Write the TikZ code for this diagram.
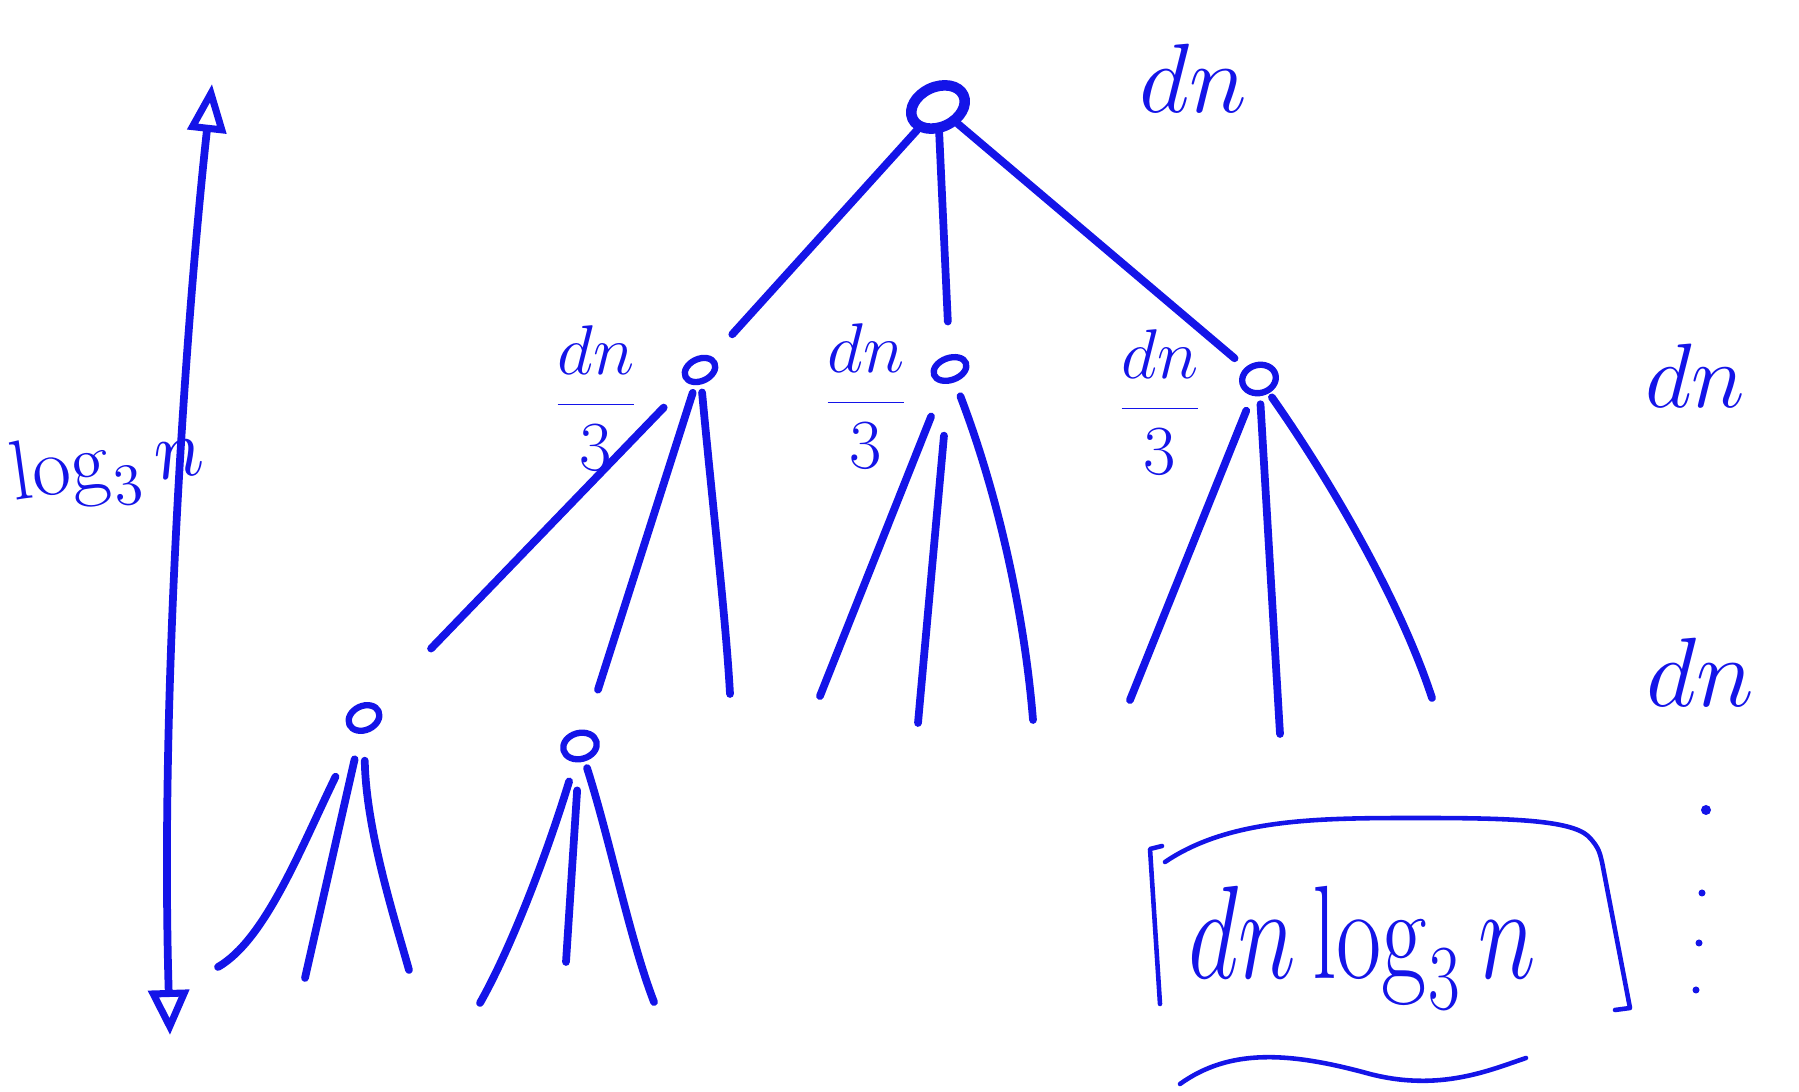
\documentclass[tikz,border=0pt]{standalone}
\usepackage{fix-cm}
\usetikzlibrary{shapes.geometric,arrows.meta}
\definecolor{ink}{RGB}{20,20,232}
\begin{document}
\begin{tikzpicture}[x=0.01cm,y=-0.01cm,line cap=round,line join=round,
  edge/.style={draw=ink,line width=2.2pt},
  thinink/.style={draw=ink,line width=1.3pt},
  vert/.style={ellipse,draw=ink,line width=1.8pt,inner sep=0pt},
  lbl/.style={text=ink,inner sep=0pt}]
\useasboundingbox[fill=white] (0,0) rectangle (1799,1092);

% vertices
\node[vert,minimum width=0.56cm,minimum height=0.40cm,rotate=25,line width=3pt] (R) at (938,107) {};
\node[vert,minimum width=0.32cm,minimum height=0.22cm,rotate=25] (C1) at (700,370) {};
\node[vert,minimum width=0.34cm,minimum height=0.22cm,rotate=20] (C2) at (950,369) {};
\node[vert,minimum width=0.34cm,minimum height=0.28cm,rotate=15] (C3) at (1259,379) {};
\node[vert,minimum width=0.32cm,minimum height=0.24cm,rotate=25] (G1) at (364,718) {};
\node[vert,minimum width=0.34cm,minimum height=0.26cm,rotate=15] (G2) at (580,746) {};

% labels
\node[lbl,font=\fontsize{28}{32}\selectfont] (Lroot) at (1193,78) {$dn$};
\node[lbl,font=\fontsize{20}{24}\selectfont] (L1) at (596,398) {$\displaystyle\frac{dn}{3}$};
\node[lbl,font=\fontsize{20}{24}\selectfont] (L2) at (866,396) {$\displaystyle\frac{dn}{3}$};
\node[lbl,font=\fontsize{20}{24}\selectfont] (L3) at (1160,402) {$\displaystyle\frac{dn}{3}$};
\node[lbl,font=\fontsize{26}{30}\selectfont] (S1) at (1695,376) {$dn$};
\node[lbl,font=\fontsize{28}{32}\selectfont] (S2) at (1700,672) {$dn$};
\node[lbl,font=\fontsize{24}{28}\selectfont,rotate=8] (Llog) at (108,468) {$\log_3 n$};
\node[lbl,font=\fontsize{28}{32}\selectfont] (Ltot) at (1362,948) {\scalebox{1}[1.35]{$dn\log_3 n$}};

% root edges
\draw[edge,shorten >=0.30cm] (R) -- (C1);
\draw[edge,shorten >=0.33cm] (R) -- (C2);
\draw[edge,shorten >=0.14cm] (R) -- (C3);

% level 1 -> level 2
\draw[edge,shorten <=0.34cm,shorten >=0.78cm] (C1) -- (G1);
\draw[edge,shorten <=0.08cm,shorten >=0.42cm] (C1) -- (G2);
\coordinate (c1r) at (730,694);
\draw[edge,shorten <=0.08cm] (C1) .. controls (712,500) and (726,620) .. (c1r);

% C2 leaves
\coordinate (c2l) at (820,696);
\coordinate (c2m) at (918,723);
\coordinate (c2r) at (1033,720);
\draw[edge,shorten <=0.35cm] (C2) -- (c2l);
\draw[edge,shorten <=0.52cm] (C2) -- (c2m);
\draw[edge,shorten <=0.15cm] (C2) .. controls (1000,500) and (1025,620) .. (c2r);

% C3 leaves
\coordinate (c3l) at (1130,700);
\coordinate (c3m) at (1280,734);
\coordinate (c3r) at (1432,698);
\draw[edge,shorten <=0.16cm] (C3) -- (c3l);
\draw[edge,shorten <=0.08cm] (C3) -- (c3m);
\draw[edge,shorten <=0.05cm] (C3) .. controls (1330,480) and (1400,600) .. (c3r);

% G1 leaves
\coordinate (g1l) at (218,967);
\coordinate (g1m) at (305,978);
\coordinate (g1r) at (409,970);
\draw[edge,shorten <=0.48cm] (G1) .. controls (300,850) and (265,940) .. (g1l);
\draw[edge,shorten <=0.26cm] (G1) -- (g1m);
\draw[edge,shorten <=0.27cm] (G1) .. controls (366,830) and (395,920) .. (g1r);

% G2 leaves
\coordinate (g2l) at (480,1003);
\coordinate (g2m) at (566,962);
\coordinate (g2r) at (654,1002);
\draw[edge,shorten <=0.20cm] (G2) .. controls (545,860) and (510,950) .. (g2l);
\draw[edge,shorten <=0.28cm] (G2) -- (g2m);
\draw[edge,shorten <=0.07cm] (G2) .. controls (610,840) and (630,940) .. (g2r);

% height arrow
\coordinate (abot) at (170,1035);
\coordinate (atop) at (212,84);
\draw[edge,{Triangle[open,length=0.45cm,width=0.40cm,line width=2pt]}-{Triangle[open,length=0.48cm,width=0.38cm,line width=2pt]}]
  (abot) .. controls (160,700) and (185,330) .. (atop);

% boxed total
\draw[thinink] (1162,846) -- (1150,849) -- (1160,1004);
\draw[thinink] (1165,862) .. controls (1230,818) and (1320,818) .. (1420,818)
  .. controls (1510,818) and (1570,820) .. (1588,836)
  .. controls (1600,848) and (1600,855) .. (1602,862) -- (1630,1008) -- (1615,1010);
\draw[thinink] (1180,1084) .. controls (1230,1048) and (1290,1052) .. (1370,1074)
  .. controls (1440,1092) and (1490,1070) .. (1526,1058);

% dots
\fill[ink] (1706,810) circle (5);
\fill[ink] (1702,893) circle (3.5);
\fill[ink] (1699,943) circle (3.5);
\fill[ink] (1696,990) circle (3.5);
\end{tikzpicture}
\end{document}
